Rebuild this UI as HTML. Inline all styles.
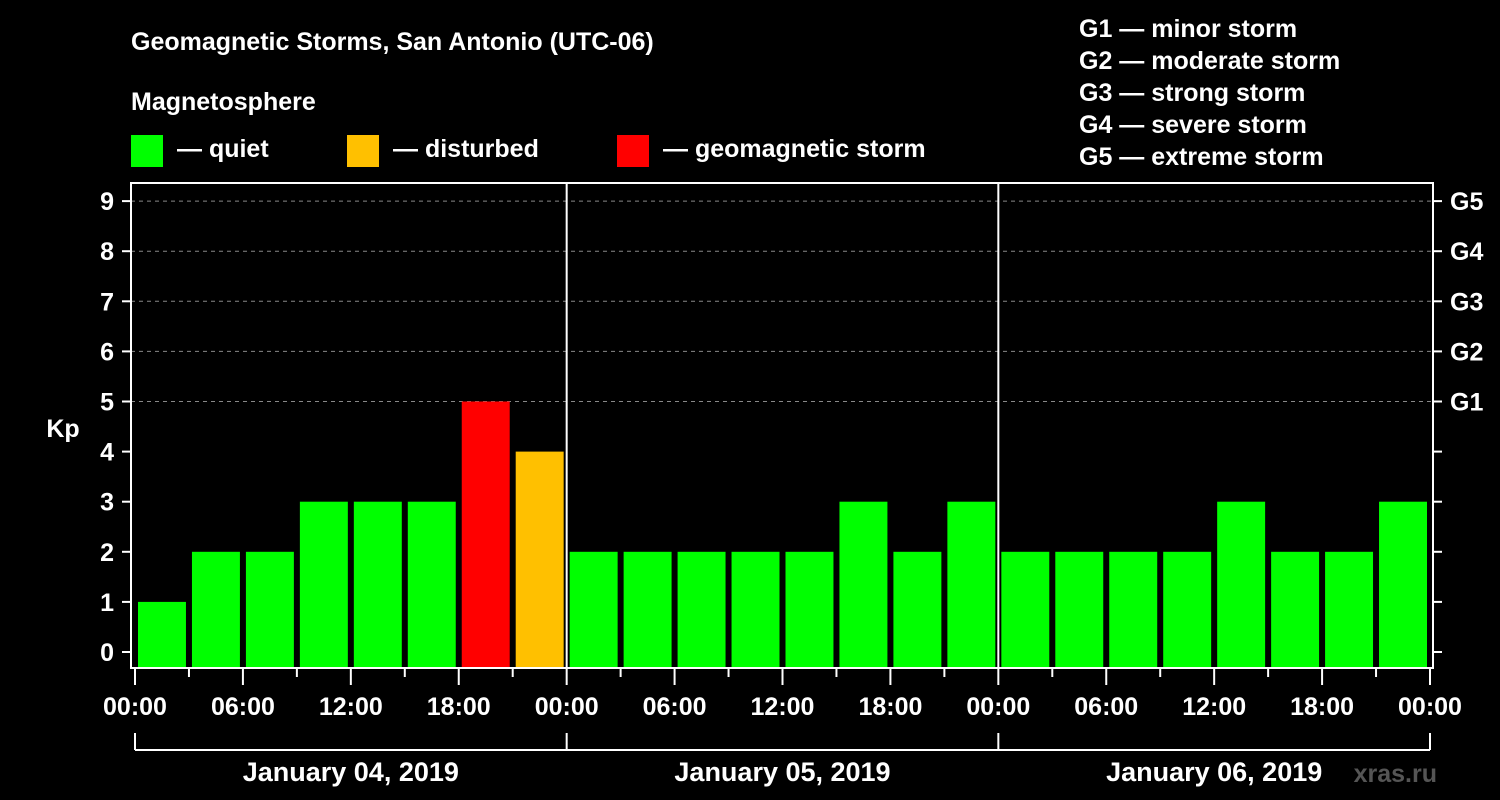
<!DOCTYPE html>
<html><head><meta charset="utf-8"><style>
body{margin:0;background:#000;}
svg{display:block;font-family:"Liberation Sans",Arial,sans-serif;font-weight:bold;}
</style></head><body>
<svg id="chart" width="1500" height="800" viewBox="0 0 1500 800">
<rect width="1500" height="800" fill="#000"/>
<text x="131" y="50" fill="#fff" font-size="25">Geomagnetic Storms, San Antonio (UTC-06)</text>
<text x="131" y="110" fill="#fff" font-size="25">Magnetosphere</text>
<g><rect x="131" y="135" width="32" height="32" fill="#00ff00"/><text x="177" y="157" fill="#fff" font-size="25">— quiet</text></g>
<g><rect x="347" y="135" width="32" height="32" fill="#ffc000"/><text x="393" y="157" fill="#fff" font-size="25">— disturbed</text></g>
<g><rect x="617" y="135" width="32" height="32" fill="#ff0000"/><text x="663" y="157" fill="#fff" font-size="25">— geomagnetic storm</text></g>
<g fill="#fff" font-size="25">
<text x="1079" y="37">G1 — minor storm</text>
<text x="1079" y="69">G2 — moderate storm</text>
<text x="1079" y="101">G3 — strong storm</text>
<text x="1079" y="133">G4 — severe storm</text>
<text x="1079" y="165">G5 — extreme storm</text>
</g>
<text x="63" y="437" fill="#fff" font-size="25" text-anchor="middle">Kp</text>
<text x="1437" y="782" fill="#555" font-size="25" text-anchor="end">xras.ru</text>
<g id="grid"></g><g id="bars"></g><g id="axes"></g>
</svg>
<script>
const kpValues = [1,2,2,3,3,3,5,4, 2,2,2,2,2,3,2,3, 2,2,2,2,3,2,2,3];
const yTicks = [0,1,2,3,4,5,6,7,8,9];
const gLabels = ["G1","G2","G3","G4","G5"];
const hourLabels = ["00:00","06:00","12:00","18:00"];
const dayLabels = ["January 04, 2019","January 05, 2019","January 06, 2019"];

const NS="http://www.w3.org/2000/svg";
const X0=135,X1=1430,PT=183,PB=668,AXL=131,AXR=1433;
const slot=(X1-X0)/24;
const y=v=>652-50.1*v;
const x=i=>X0+i*slot;
function mk(tag,attrs,parent,text){const e=document.createElementNS(NS,tag);for(const k in attrs)e.setAttribute(k,attrs[k]);if(text!==undefined)e.textContent=text;parent.appendChild(e);return e;}
const grid=document.getElementById('grid'),bars=document.getElementById('bars'),axes=document.getElementById('axes');
function color(v){return v>=5?"#ff0000":(v>=4?"#ffc000":"#00ff00");}
yTicks.forEach(t=>{
  if(t>=5){const g=mk('line',{x1:AXL,x2:AXR,y1:y(t),y2:y(t),stroke:'#888','stroke-dasharray':'4,4','stroke-width':1},grid);
  
  }
  const tl=mk('line',{x1:122,x2:AXL,y1:y(t),y2:y(t),stroke:'#fff','stroke-width':2},axes);
  
  
  const tr=mk('line',{x1:AXR,x2:1442,y1:y(t),y2:y(t),stroke:'#fff','stroke-width':2},axes);
  
  
  const lb=mk('text',{x:114,y:y(t)+9,fill:'#fff','font-size':25,'text-anchor':'end'},axes,String(t));
  
  
});
gLabels.forEach((g,i)=>{
  const t=mk('text',{x:1450,y:y(5+i)+9,fill:'#fff','font-size':25},axes,g);
  
  
});
kpValues.forEach((v,i)=>{
  const r=mk('rect',{x:x(i)+3,y:y(v),width:slot-6,height:PB-y(v),fill:color(v)},bars);
  
  
});
// frame
const fr=mk('rect',{x:AXL,y:PT,width:AXR-AXL,height:PB-PT,fill:'none',stroke:'#fff','stroke-width':2},axes);


for(let d=1;d<3;d++){const l=mk('line',{x1:x(d*8),x2:x(d*8),y1:PT,y2:PB,stroke:'#fff','stroke-width':2},axes);

}
for(let i=0;i<=24;i++){
  const major=i%2===0;
  const t=mk('line',{x1:x(i),x2:x(i),y1:PB,y2:major?685:677,stroke:'#fff','stroke-width':2},axes);
  
  
  if(major){const lb=mk('text',{x:x(i),y:715,fill:'#fff','font-size':25,'text-anchor':'middle'},axes,hourLabels[(i/2)%4]);
  
  }
}
const br=mk('line',{x1:X0,x2:X1,y1:750,y2:750,stroke:'#fff','stroke-width':2},axes);


for(let d=0;d<=3;d++){const l=mk('line',{x1:x(d*8),x2:x(d*8),y1:733,y2:750,stroke:'#fff','stroke-width':2},axes);

}
dayLabels.forEach((dl,d)=>{
  const t=mk('text',{x:x(d*8+4),y:781,fill:'#fff','font-size':27,'text-anchor':'middle'},axes,dl);
  
  
});
</script>
</body></html>
